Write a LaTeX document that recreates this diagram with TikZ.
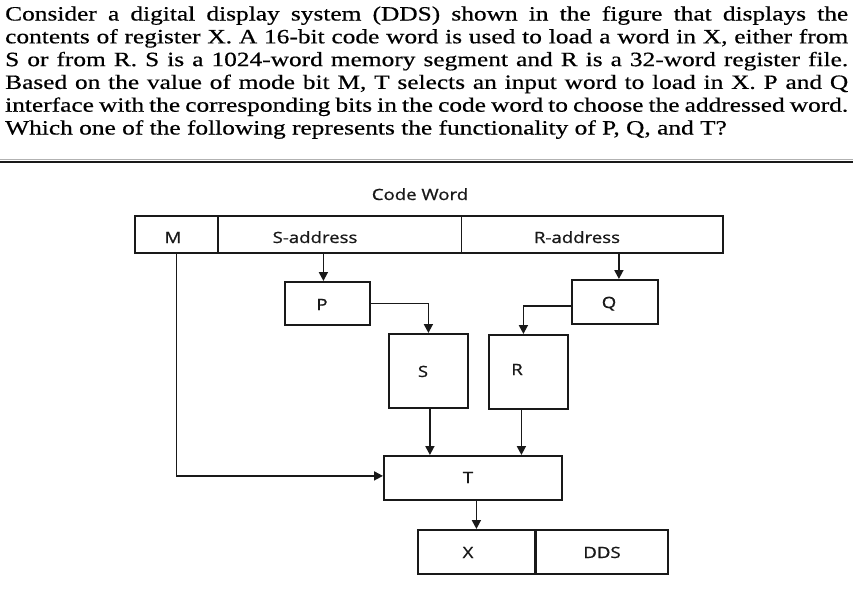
\documentclass[tikz,border=0pt]{standalone}
\usepackage{fontspec}
\setmainfont{Liberation Serif}
\newfontfamily\qfont[FakeStretch=1.25,FakeBold=0.5]{Liberation Serif}
\newfontfamily\lblfont[FakeStretch=1.2,FakeBold=1.0]{Open Sans}
\usetikzlibrary{arrows.meta}
\definecolor{ink}{RGB}{25,25,25}
\begin{document}
\begin{tikzpicture}[x=1pt,y=-1pt,
  txtline/.style={anchor=base west, inner sep=0, text=black, font=\qfont\fontsize{20.3}{22.8}\selectfont},
  cell/.style={draw=ink, line width=1.8pt, inner sep=0, anchor=north west},
  lbl/.style={font=\lblfont\fontsize{15.5}{17}\selectfont, text=ink, inner sep=0, anchor=base},
  arr/.style={draw=ink, line width=1.8pt, -{Triangle[length=9pt,width=9pt]}},
]
\fill[white] (0,0) rectangle (853,595);
\useasboundingbox (0,0) rectangle (853,595);

% question text
\node[txtline] (l1) at (5,20.5) {\makebox[843pt][s]{Consider a digital display system (DDS) shown in the figure that displays the}};
\node[txtline] (l2) at (5,43.3) {\makebox[843pt][s]{contents of register X. A 16-bit code word is used to load a word in X, either from}};
\node[txtline] (l3) at (5,66.1) {\makebox[843pt][s]{S or from R. S is a 1024-word memory segment and R is a 32-word register file.}};
\node[txtline] (l4) at (5,88.9) {\makebox[843pt][s]{Based on the value of mode bit M, T selects an input word to load in X. P and Q}};
\node[txtline] (l5) at (5,111.7) {\makebox[843pt][s]{interface with the corresponding bits in the code word to choose the addressed word.}};
\node[txtline] (l6) at (5,134.5) {Which one of the following represents the functionality of P, Q, and T?};

% rule
\draw[gray!60, line width=1pt] (0,159.3) -- (853,159.3);
\draw[ink, line width=1.8pt] (0,162.3) -- (853,162.3);

% code word
\node[lbl] (cwtitle) at (420,200) {Code Word};
\node[cell, minimum width=83pt, minimum height=37pt] (cwm) at (134,215) {};
\node[cell, minimum width=243.5pt, minimum height=37pt] (cws) at (217,215) {};
\node[cell, minimum width=261.5pt, minimum height=37pt] (cwr) at (460.5,215) {};
\node[lbl] (tm) at (173,243) {M};
\node[lbl] (ts) at (315,243) {S-address};
\node[lbl] (tr) at (577,243) {R-address};

% boxes
\node[cell, minimum width=85pt, minimum height=43pt] (P) at (284,281) {};
\node[lbl] at (322,310) {P};
\node[cell, minimum width=86pt, minimum height=44pt] (Q) at (571,279) {};
\node[lbl] at (609,308) {Q};
\node[cell, minimum width=79pt, minimum height=74pt] (S) at (388,333) {};
\node[lbl] at (423,377) {S};
\node[cell, minimum width=79pt, minimum height=74pt] (R) at (488,334) {};
\node[lbl] at (517,375) {R};
\node[cell, minimum width=178pt, minimum height=44pt] (T) at (383,455) {};
\node[lbl] at (468,483) {T};
\node[cell, minimum width=117pt, minimum height=44pt] (X) at (417,529) {};
\node[lbl] at (468,558) {X};
\node[cell, minimum width=133pt, minimum height=44pt] (DDS) at (534,529) {};
\node[lbl] at (602,558) {DDS};
\draw[ink, line width=3.2pt] (X.north east) -- (X.south east);

% connectors
\draw[arr] ([xshift=-4pt]P.north |- cws.south) -- ([xshift=-4pt]P.north);
\draw[arr] (P.east) -| (S.north);
\draw[arr] ([xshift=4pt]Q.north |- cwr.south) -- ([xshift=4pt]Q.north);
\draw[arr] ([yshift=-4pt]Q.west) -| ([xshift=-5pt]R.north);
\draw[arr] ([xshift=1.5pt]S.south) -- ([xshift=1.5pt]S.south |- T.north);
\draw[arr] ([xshift=-7pt]R.south) -- ([xshift=-7pt]R.south |- T.north);
\draw[arr] (cwm.south) |- ([yshift=2pt]T.west);
\draw[arr] (T.south -| X.north) -- (X.north);
\end{tikzpicture}
\end{document}
